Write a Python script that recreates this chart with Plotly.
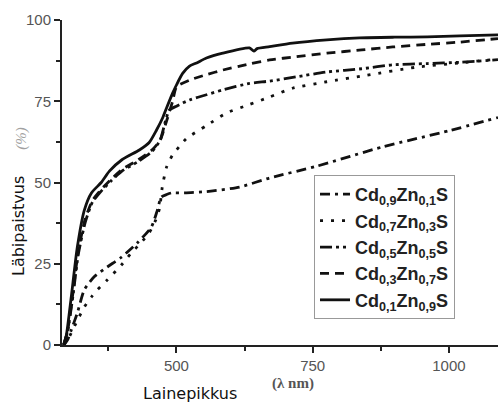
import plotly.graph_objects as go

# ---- data ----
names = ["Cd<sub>0,9</sub>Zn<sub>0,1</sub>S", "Cd<sub>0,7</sub>Zn<sub>0,3</sub>S",
         "Cd<sub>0,5</sub>Zn<sub>0,5</sub>S", "Cd<sub>0,3</sub>Zn<sub>0,7</sub>S",
         "Cd<sub>0,1</sub>Zn<sub>0,9</sub>S"]

x_cd09 = [293, 300, 307, 318, 331, 349, 373, 399, 428, 454, 465, 472, 482, 491, 515, 555, 616, 671, 757, 879, 1002, 1090]
y_cd09 = [0, 1.5, 4.6, 9.8, 17, 21, 24, 27, 31.4, 36.3, 41.5, 45.5, 46.3, 46.8, 46.8, 47.2, 48.6, 51.4, 55, 61, 66, 70]

x_cd07 = [293, 300, 307, 318, 331, 345, 355, 373, 399, 417, 435, 450, 462, 469, 474, 482, 493, 505, 518, 555, 592, 634, 671, 713, 776, 849, 941, 1020, 1090]
y_cd07 = [0, 1.5, 3.7, 7.5, 11.7, 15, 17, 20, 24.6, 28.3, 31.5, 34.5, 38.5, 42, 48.6, 54.8, 58.5, 61, 63.5, 67.5, 71.4, 74, 76.3, 79, 81, 83, 85.5, 86.8, 88]

x_cd05 = [293, 300, 310, 320, 333, 346, 360, 380, 400, 430, 455, 470, 480, 487, 500, 524, 555, 585, 634, 671, 720, 776, 840, 897, 960, 1020, 1090]
y_cd05 = [0, 4, 15, 28, 38, 44, 47, 50.5, 53.5, 56.5, 59.5, 63, 69, 72.3, 73.5, 75.4, 77, 78.5, 80.5, 81.2, 82.5, 84, 85, 86.2, 86.6, 87, 87.8]

x_cd03 = [293, 300, 310, 320, 333, 346, 360, 380, 400, 430, 455, 470, 482, 493, 500, 524, 555, 585, 634, 671, 720, 776, 840, 897, 960, 1020, 1090]
y_cd03 = [0, 4, 16, 29, 39, 44.5, 47.5, 51, 54, 57, 60, 63, 69, 75, 79.4, 81.5, 83.2, 84.6, 86.5, 87.7, 88.7, 89.8, 90.8, 91.7, 92.5, 93.2, 94.3]

x_cd01 = [293, 298, 307, 318, 331, 344, 362, 377, 400, 432, 450, 463, 475, 482, 493, 500, 511, 524, 537, 555, 585, 634, 642, 648, 671, 713, 776, 836, 900, 960, 1020, 1090]
y_cd01 = [0, 3, 14.8, 30, 41.5, 46.8, 50, 53.5, 57, 60, 62.3, 66, 70, 73, 77.5, 80, 83.5, 85.8, 86.8, 88.3, 89.8, 91.4, 90.4, 91.2, 91.8, 92.9, 93.9, 94.5, 94.7, 94.8, 95.1, 95.4]

x_ticks = [500, 750, 1000]
y_ticks = [0, 25, 50, 75, 100]

series = [(x_cd09, y_cd09, "10px,5px,3px,5px"),
          (x_cd07, y_cd07, "3px,8px"),
          (x_cd05, y_cd05, "12px,4px,3px,4px,3px,4px"),
          (x_cd03, y_cd03, "9px,6px"),
          (x_cd01, y_cd01, "solid")]

fig = go.Figure()
for name, (xs, ys, dash) in zip(names, series):
    fig.add_trace(go.Scatter(x=xs, y=ys, mode="lines", name="<b>" + name + "</b>",
                             line=dict(color="#111111", width=2.8, dash=dash, shape="spline", smoothing=0.6)))

axis_common = dict(showgrid=False, zeroline=False, showline=True, linecolor="#222222", linewidth=2,
                   ticks="outside", ticklen=6, tickwidth=2, tickcolor="#222222",
                   tickfont=dict(family="Liberation Sans, Arial", size=15, color="#555555"))

fig.update_xaxes(range=[290, 1090], tickvals=x_ticks,
                 minor=dict(dtick=125, tick0=0, ticklen=4, tickwidth=2, tickcolor="#222222", ticks="outside"),
                 **axis_common)
fig.update_yaxes(range=[0, 100], tickvals=y_ticks,
                 minor=dict(dtick=12.5, tick0=0, ticklen=4, tickwidth=2, tickcolor="#222222", ticks="outside"),
                 **axis_common)

fig.add_annotation(text="Läbipaistvus", xref="paper", yref="paper", x=-0.101, y=0.366,
                   textangle=-90, showarrow=False, xanchor="center", yanchor="middle",
                   font=dict(family="DejaVu Sans", size=16, color="#111111"))
fig.add_annotation(text="<i>(%)</i>", xref="paper", yref="paper", x=-0.092, y=0.637,
                   textangle=-90, showarrow=False, xanchor="center", yanchor="middle",
                   font=dict(family="Liberation Serif", size=15, color="#a0a0a0"))
fig.add_annotation(text="Lainepikkus", xref="paper", yref="paper", x=0.294, y=-0.150,
                   showarrow=False, xanchor="center", yanchor="middle",
                   font=dict(family="DejaVu Sans", size=16, color="#111111"))
fig.add_annotation(text="<b>(λ nm)</b>", xref="paper", yref="paper", x=0.53, y=-0.117,
                   showarrow=False, xanchor="center", yanchor="middle",
                   font=dict(family="Liberation Serif", size=15, color="#555555"))

fig.update_layout(
    width=498, height=403,
    margin=dict(l=62, r=0, t=20, b=58),
    paper_bgcolor="white", plot_bgcolor="white",
    showlegend=True,
    legend=dict(x=0.578, y=0.523, xanchor="left", yanchor="top",
                bgcolor="white", bordercolor="#999999", borderwidth=1,
                font=dict(family="Liberation Sans, Arial", size=18, color="#222222"),
                tracegroupgap=0),
)

fig.write_html("out.html", config={"displayModeBar": False},
               post_script="document.body.style.margin='0';")
